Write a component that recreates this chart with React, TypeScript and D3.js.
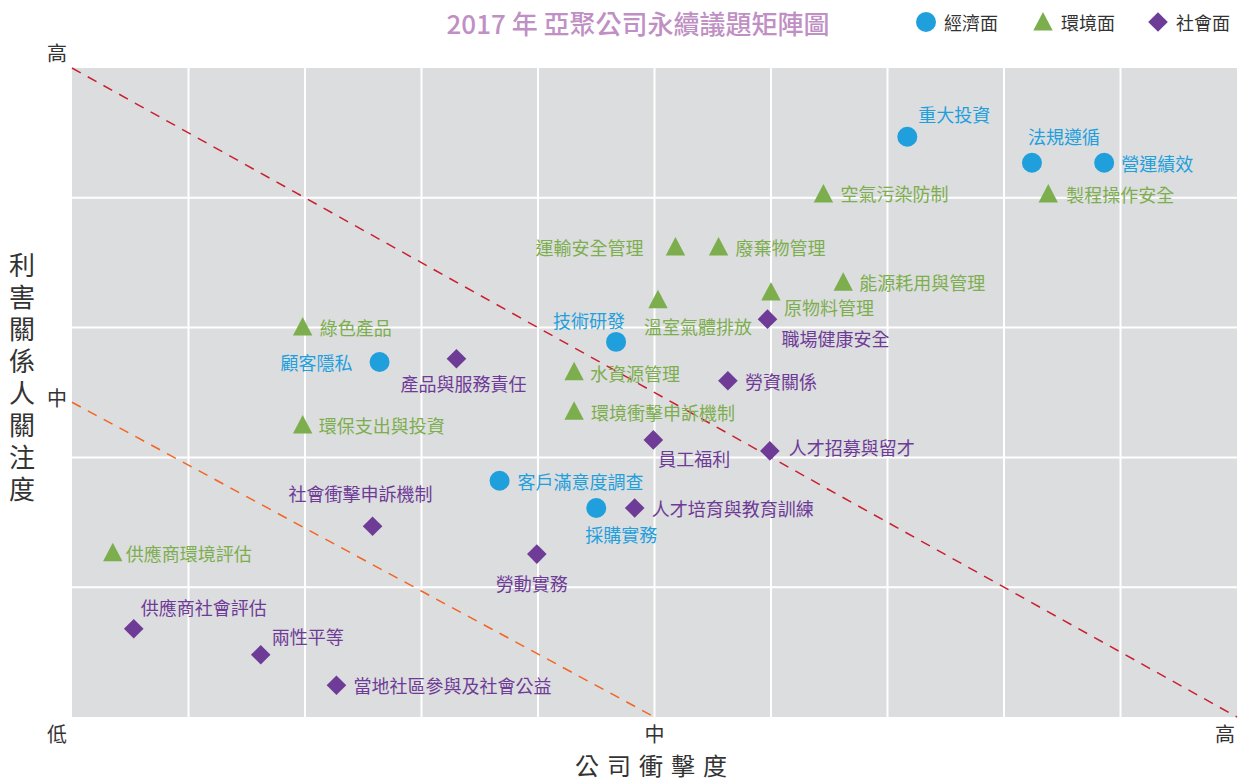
import React, { useEffect } from 'react';
import * as d3 from 'd3';

// Issue scores: x = company impact, y = stakeholder concern (0-10 scale)
const economicNames = ['重大投資', '法規遵循', '營運績效', '技術研發', '顧客隱私', '客戶滿意度調查', '採購實務'];
const economicX = [7.17, 8.24, 8.86, 4.67, 2.64, 3.67, 4.5];
const economicY = [8.94, 8.54, 8.54, 5.78, 5.47, 3.64, 3.22];

const environmentNames = [
  '空氣污染防制', '製程操作安全', '運輸安全管理', '廢棄物管理', '能源耗用與管理', '原物料管理',
  '溫室氣體排放', '綠色產品', '水資源管理', '環境衝擊申訴機制', '環保支出與投資', '供應商環境評估',
];
const environmentX = [6.45, 8.38, 5.18, 5.55, 6.62, 6.0, 5.03, 1.98, 4.31, 4.31, 1.98, 0.35];
const environmentY = [8.06, 8.06, 7.24, 7.24, 6.7, 6.55, 6.43, 6.01, 5.32, 4.71, 4.5, 2.53];

const socialNames = [
  '職場健康安全', '產品與服務責任', '勞資關係', '員工福利', '人才招募與留才', '人才培育與教育訓練',
  '社會衝擊申訴機制', '勞動實務', '供應商社會評估', '兩性平等', '當地社區參與及社會公益',
];
const socialX = [5.97, 3.3, 5.63, 4.99, 5.99, 4.83, 2.58, 3.99, 0.53, 1.62, 2.27];
const socialY = [6.13, 5.52, 5.18, 4.27, 4.1, 3.22, 2.94, 2.51, 1.36, 0.96, 0.49];

const legendLabels = ['經濟面', '環境面', '社會面'];
const levelLabels = ['低', '中', '高'];

// label placement relative to the marker (layout only)
const labelOffset: Record<string, [number, number, string]> = {
  重大投資: [11, -23, 'start'], 法規遵循: [-4, -27, 'start'], 營運績效: [17, 0, 'start'],
  技術研發: [9, -22, 'end'], 顧客隱私: [-27, 0, 'end'], 客戶滿意度調查: [18, 0, 'start'],
  採購實務: [-11, 26, 'start'],
  空氣污染防制: [17, -1, 'start'], 製程操作安全: [18, 0, 'start'], 運輸安全管理: [-32, 0, 'end'],
  廢棄物管理: [17, 0, 'start'], 能源耗用與管理: [16, 0, 'start'], 原物料管理: [13, 15, 'start'],
  溫室氣體排放: [-14, 26, 'start'], 綠色產品: [17, 0, 'start'], 水資源管理: [16, 1, 'start'],
  環境衝擊申訴機制: [17, 1, 'start'], 環保支出與投資: [16, 0, 'start'], 供應商環境評估: [13, 0, 'start'],
  職場健康安全: [14, 19, 'start'], 產品與服務責任: [-56, 24, 'start'], 勞資關係: [17, 0, 'start'],
  員工福利: [5, 18, 'start'], 人才招募與留才: [19, -4, 'start'], 人才培育與教育訓練: [17, 0, 'start'],
  社會衝擊申訴機制: [-84, -33, 'start'], 勞動實務: [-41, 29, 'start'], 供應商社會評估: [7, -22, 'start'],
  兩性平等: [11, -19, 'start'], 當地社區參與及社會公益: [17, 0, 'start'],
};

const font = '"Noto Sans CJK TC", "Noto Sans", sans-serif';
const blue = '#1fa0dc';
const green = '#7cae4e';
const purple = '#6e3b96';

const W = 1240;
const H = 781;
const plot = { left: 72, right: 1237, top: 68, bottom: 717 };

// marker shapes
const circleSym = d3.symbol(d3.symbolCircle, 314)();
const triSym = 'M0,-10L9.7,8.5L-9.7,8.5Z';
const diaSym = 'M0,-9.8L9.8,0L0,9.8L-9.8,0Z';

const App = () => {
  useEffect(() => {
    document.body.style.margin = '0';
  }, []);

  const x = d3.scaleLinear().domain([0, 10]).range([plot.left, plot.right]);
  const y = d3.scaleLinear().domain([0, 10]).range([plot.bottom, plot.top]);

  const series = [
    { names: economicNames, xs: economicX, ys: economicY, color: blue, sym: circleSym },
    { names: environmentNames, xs: environmentX, ys: environmentY, color: green, sym: triSym },
    { names: socialNames, xs: socialX, ys: socialY, color: purple, sym: diaSym },
  ];

  return (
    <svg width={W} height={H} style={{ display: 'block', fontFamily: font }}>
      <rect x={plot.left} y={plot.top} width={plot.right - plot.left} height={plot.bottom - plot.top} fill="#dcdddf" />
      {d3.range(1, 10).map(v => (
        <line key={'gx' + v} x1={x(v)} x2={x(v)} y1={plot.top} y2={plot.bottom} stroke="#fff" strokeWidth={2} />
      ))}
      {d3.range(2, 10, 2).map(v => (
        <line key={'gy' + v} x1={plot.left} x2={plot.right} y1={y(v)} y2={y(v)} stroke="#fff" strokeWidth={2} />
      ))}

      {/* threshold lines */}
      <line x1={x(0)} y1={y(10)} x2={x(10)} y2={y(0)} stroke="#c8202f" strokeWidth={1.5} strokeDasharray="10 8" />
      <line x1={x(0)} y1={y(4.85)} x2={x(5)} y2={y(0)} stroke="#f26522" strokeWidth={1.5} strokeDasharray="10 8" />

      {series.map(s =>
        s.names.map((n, i) => {
          const px = x(s.xs[i]);
          const py = y(s.ys[i]);
          const [dx, dy, anchor] = labelOffset[n];
          return (
            <g key={n}>
              <path d={s.sym} transform={`translate(${px},${py})`} fill={s.color} />
              <text x={px + dx} y={py + dy} textAnchor={anchor} dominantBaseline="central" fontSize={18} fill={s.color}>
                {n}
              </text>
            </g>
          );
        })
      )}

      {/* level labels */}
      <text x={57} y={52} textAnchor="middle" dominantBaseline="central" fontSize={20} fill="#333">{levelLabels[2]}</text>
      <text x={57} y={397} textAnchor="middle" dominantBaseline="central" fontSize={20} fill="#333">{levelLabels[1]}</text>
      <text x={57} y={733} textAnchor="middle" dominantBaseline="central" fontSize={20} fill="#333">{levelLabels[0]}</text>
      <text x={x(5)} y={733} textAnchor="middle" dominantBaseline="central" fontSize={20} fill="#333">{levelLabels[1]}</text>
      <text x={1225} y={733} textAnchor="middle" dominantBaseline="central" fontSize={20} fill="#333">{levelLabels[2]}</text>

      {/* axis titles */}
      <text x={655} y={764} textAnchor="middle" dominantBaseline="central" fontSize={24} letterSpacing={8} fill="#333">
        公司衝擊度
      </text>
      <text x={22} y={252} writingMode="vertical-rl" fontSize={26} letterSpacing={6} fill="#333"
        style={{ writingMode: 'vertical-rl', textOrientation: 'upright' } as React.CSSProperties}>
        利害關係人關注度
      </text>

      {/* title */}
      <text x={638} y={22} textAnchor="middle" dominantBaseline="central" fontSize={26} fontWeight={500} fill="#c08fc4">
        2017 年 亞聚公司永續議題矩陣圖
      </text>

      {/* legend */}
      {[circleSym, triSym, diaSym].map((sym, i) => {
        const lx = [926, 1043, 1158][i];
        return (
          <g key={'lg' + i}>
            <path d={sym} transform={`translate(${lx},22)`} fill={[blue, green, purple][i]} />
            <text x={lx + 18} y={22} dominantBaseline="central" fontSize={18} fill="#333">{legendLabels[i]}</text>
          </g>
        );
      })}
    </svg>
  );
};

export default App;
